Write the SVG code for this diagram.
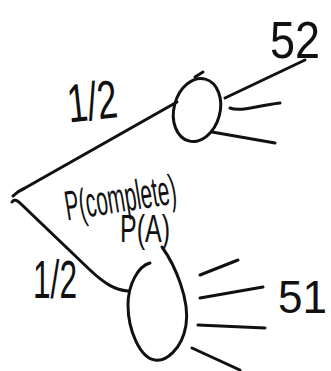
<svg xmlns="http://www.w3.org/2000/svg" width="331" height="371" viewBox="0 0 331 371">
<style>
.s{fill:none;stroke:#111;stroke-width:3;stroke-linecap:round;stroke-linejoin:round}
.t{font-family:"Liberation Sans",Arial,sans-serif;fill:#111}
</style>
<rect width="331" height="371" fill="#fff"/>
<g id="connectors">
<path class="s" d="M13,196 Q18,191 25,188 L177,102"/>
<path class="s" d="M12,202 C14,199 17,200 20,203 L90,270 C105,284 115,290 128,291"/>
<path class="s" d="M225,98 L305,60"/>
<path class="s" d="M230,108 C240,112 255,106 280,103"/>
<path class="s" d="M212,132 L275,143"/>
<path class="s" d="M200,275 L238,260"/>
<path class="s" d="M200,298 L263,287"/>
<path class="s" d="M198,325 L265,328"/>
<path class="s" d="M192,348 L240,370"/>
<text class="t" x="67" y="120" font-size="54" textLength="50" lengthAdjust="spacingAndGlyphs" transform="rotate(-6 92 100)">1/2</text>
<text class="t" x="33" y="298" font-size="54" textLength="44" lengthAdjust="spacingAndGlyphs">1/2</text>
</g>
<g id="node-top">
<ellipse class="s" cx="197" cy="110" rx="23" ry="32" transform="rotate(15 197 110)"/>
<path class="s" d="M195,77 L203,72"/>
<text class="t" x="270" y="58" font-size="52" textLength="50" lengthAdjust="spacingAndGlyphs">52</text>
</g>
<g id="node-bottom">
<path class="s" d="M162,247 C175,265 190,300 186,325 C182,350 165,362 155,360 C140,358 128,330 128,305 C128,285 138,266 150,263"/>
<text class="t" x="278" y="313" font-size="46" textLength="49" lengthAdjust="spacingAndGlyphs">51</text>
</g>
<g id="label-p">
<text class="t" x="64" y="212" font-size="42" textLength="112" lengthAdjust="spacingAndGlyphs" transform="rotate(-9 120 195)">P(complete)</text>
<text class="t" x="120" y="242" font-size="38" textLength="50" lengthAdjust="spacingAndGlyphs">P(A)</text>
</g>
</svg>
